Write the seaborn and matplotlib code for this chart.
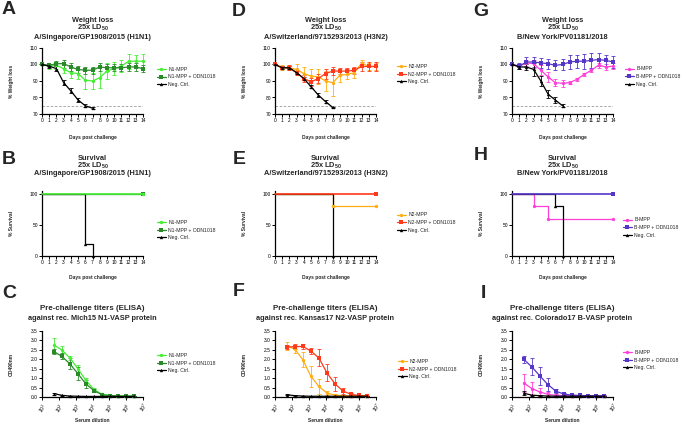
import numpy as np
import pandas as pd
import matplotlib
matplotlib.use("Agg")
import matplotlib.pyplot as plt
import seaborn as sns
from matplotlib.lines import Line2D
from matplotlib.ticker import FixedLocator, LogFormatterMathtext, NullLocator

# ---------------- data ----------------
days = list(range(15))

# A  weight loss H1N1
a_mpp = [100, 99, 99.5, 97.5, 95, 94.5, 90.5, 90, 92, 96, 97.5, 99, 102, 102, 102]
a_mpp_sd = [0, 1.5, 2, 2.5, 3, 3, 5.5, 5, 6.5, 5, 4, 3.5, 4.5, 4, 4.5]
a_odn = [100, 99.5, 100.5, 100.5, 98.5, 97, 96.5, 96.5, 98.5, 98, 98, 98, 98.5, 98.5, 97.5]
a_odn_sd = [0, 1, 1.5, 2.5, 2.5, 2, 2, 2, 2.5, 2, 2, 2, 2.5, 2.5, 2]
a_neg = [100, 99, 97.5, 89, 84, 78.5, 75, 73.5]
a_neg_sd = [0, 1, 1.5, 1.5, 1.5, 1, 1, 0.5]

# D  weight loss H3N2
d_mpp = [100, 98, 98, 97, 94.5, 93, 92.5, 90, 89, 93.5, 94, 95, 100.8, 98.8, 98.8]
d_mpp_sd = [0, 1.5, 1.5, 3, 4, 4, 4.5, 6, 8, 4, 3, 3, 2, 2, 2]
d_odn = [100, 98, 98, 95, 91.5, 89.5, 91.5, 94.5, 96, 96, 96, 96.5, 98.8, 98.8, 98.8]
d_odn_sd = [0, 1, 1.5, 1.5, 2, 2.5, 3, 3, 2.5, 2, 2, 2, 3, 3, 3]
d_neg = [100, 98, 98, 95, 91.5, 86.5, 81.5, 77.5, 74]
d_neg_sd = [0, 1, 1, 1, 1, 1, 1, 1, 0.5]

# G  weight loss B
g_mpp = [100, 99, 101, 100.5, 96.5, 92.5, 89, 88.6, 89, 91, 94, 96.5, 99.6, 98.5, 99]
g_mpp_sd = [0, 1.5, 2, 2.5, 3, 3, 2, 2, 1, 1, 1, 1, 1.5, 2, 2]
g_odn = [100, 99, 101.5, 101.5, 101, 100.5, 99.5, 100, 101.5, 102, 102, 102.5, 103, 102.5, 101.5]
g_odn_sd = [0, 2, 3, 3, 3, 3, 3, 3.5, 4, 4, 4.5, 4.5, 4, 3.5, 3.5]
g_neg = [100, 98.5, 98.5, 97, 90, 82, 78.5, 75]
g_neg_sd = [0, 1, 2, 4, 3, 2.5, 2, 1]

# survival (time, % survival)
b_mpp_t, b_mpp_s = [0, 14], [100, 100]
b_odn_t, b_odn_s = [0, 14], [100, 100]
b_neg_t, b_neg_s = [0, 6, 7], [100, 20, 0]
e_mpp_t, e_mpp_s = [0, 8, 14], [100, 80, 80]
e_odn_t, e_odn_s = [0, 14], [100, 100]
e_neg_t, e_neg_s = [0, 8], [100, 0]
h_mpp_t, h_mpp_s = [0, 3, 5, 14], [100, 80, 60, 60]
h_odn_t, h_odn_s = [0, 14], [100, 100]
h_neg_t, h_neg_s = [0, 6, 7], [100, 80, 0]

# ELISA: serum dilutions
dilution = [50, 150, 450, 1350, 4050, 12150, 36450, 109350, 328050, 984150, 2952450]
c_mpp = [2.76, 2.5, 2.07, 1.5, 0.88, 0.4, 0.15, 0.08, 0.05, 0.05, 0.05]
c_mpp_sd = [0.35, 0.22, 0.12, 0.18, 0.12, 0.08, 0.03, 0.02, 0.01, 0.01, 0.01]
c_odn = [2.41, 2.16, 1.76, 1.24, 0.69, 0.34, 0.12, 0.07, 0.05, 0.04, 0.04]
c_odn_sd = [0.12, 0.15, 0.3, 0.35, 0.2, 0.08, 0.03, 0.02, 0.01, 0.01, 0.01]
c_neg = [0.18, 0.09, 0.05, 0.04, 0.03, 0.03, 0.03, 0.03, 0.03, 0.03, 0.03]
c_neg_sd = [0.05, 0.02, 0.01, 0.01, 0.01, 0.01, 0.01, 0.01, 0.01, 0.01, 0.01]

f_mpp = [2.7, 2.54, 1.98, 1.1, 0.56, 0.21, 0.1, 0.07, 0.06, 0.05, 0.08]
f_mpp_sd = [0.22, 0.22, 0.4, 0.55, 0.38, 0.12, 0.05, 0.03, 0.02, 0.02, 0.05]
f_odn = [2.65, 2.67, 2.68, 2.44, 2.07, 1.28, 0.7, 0.32, 0.14, 0.08, 0.05]
f_odn_sd = [0.1, 0.12, 0.12, 0.15, 0.45, 0.45, 0.37, 0.15, 0.06, 0.03, 0.02]
f_neg = [0.12, 0.07, 0.05, 0.04, 0.04, 0.04, 0.04, 0.04, 0.04, 0.04, 0.04]
f_neg_sd = [0.04, 0.02, 0.01, 0.01, 0.01, 0.01, 0.01, 0.01, 0.01, 0.01, 0.01]

i_mpp = [0.74, 0.45, 0.27, 0.14, 0.09, 0.07, 0.06, 0.06, 0.06, 0.06, 0.06]
i_mpp_sd = [0.48, 0.35, 0.2, 0.1, 0.05, 0.03, 0.02, 0.02, 0.02, 0.02, 0.02]
i_odn = [2.0, 1.6, 1.12, 0.66, 0.31, 0.15, 0.1, 0.08, 0.07, 0.06, 0.06]
i_odn_sd = [0.2, 0.45, 0.48, 0.35, 0.1, 0.05, 0.03, 0.02, 0.02, 0.02, 0.02]
i_neg = [0.2, 0.1, 0.07, 0.05, 0.04, 0.04, 0.04, 0.04, 0.04, 0.04, 0.04]
i_neg_sd = [0.12, 0.03, 0.01, 0.01, 0.01, 0.01, 0.01, 0.01, 0.01, 0.01, 0.01]

labels_1 = ["N1-MPP", "N1-MPP + ODN1018", "Neg. Ctrl."]
labels_2 = ["N2-MPP", "N2-MPP + ODN1018", "Neg. Ctrl."]
labels_3 = ["B-MPP", "B-MPP + ODN1018", "Neg. Ctrl."]
strains = ["A/Singapore/GP1908/2015 (H1N1)", "A/Switzerland/9715293/2013 (H3N2)",
           "B/New York/PV01181/2018"]
elisa_titles = ["against rec. Mich15 N1-VASP protein", "against rec. Kansas17 N2-VASP protein",
                "against rec. Colorado17 B-VASP protein"]

# ---------------- style ----------------
colors = [["#44EE33", "#2A8A2A", "#000000"],
          ["#FFAE12", "#FF3A1A", "#000000"],
          ["#FF3FD8", "#5536C8", "#000000"]]
markers = ["o", "s", "^"]

sns.set_style("ticks")
plt.rcParams["font.family"] = ["Liberation Sans", "DejaVu Sans"]
plt.rcParams["mathtext.fontset"] = "custom"
plt.rcParams["mathtext.rm"] = "Liberation Sans"
plt.rcParams["mathtext.bf"] = "Liberation Sans:bold"

W, H = 683, 423
fig = plt.figure(figsize=(W / 100, H / 100), dpi=100)

def px_rect(left, top, right, bottom):
    return [left / W, 1 - bottom / H, (right - left) / W, (bottom - top) / H]

def fx(x):
    return x / W

def fy(y):
    return 1 - y / H

col_left = [42, 275, 512]
col_w = 101
rows = [(48, 114), (191, 256), (331, 397)]

TICK_FS = 3.5
LAB_FS = 3.5
TITLE_FS = 5.3
LEG_FS = 3.7
MS = 2.4
LW = 0.9

def style_ax(ax):
    for s in ["top", "right"]:
        ax.spines[s].set_visible(False)
    for s in ["left", "bottom"]:
        ax.spines[s].set_linewidth(0.9)
        ax.spines[s].set_color("black")
    ax.tick_params(width=0.7, length=2, labelsize=TICK_FS, pad=1, colors="black")

def draw_err_series(ax, x, m, sd, c, mk):
    ax.errorbar(x, m, yerr=sd, fmt="none", ecolor=c, elinewidth=0.6,
                capsize=1.2, capthick=0.6, clip_on=False, zorder=2)
    sns.lineplot(x=x, y=m, ax=ax, color=c, marker=mk, markersize=MS,
                 markeredgewidth=0, lw=LW, clip_on=False, zorder=3)

def add_legend(ax, labels, cols, x, y):
    handles = [Line2D([], [], color=c, marker=mk, lw=LW, ms=MS, markeredgewidth=0)
               for c, mk in zip(cols, markers)]
    ax.legend(handles, labels, loc="center left", bbox_to_anchor=(fx(x), fy(y)),
              bbox_transform=fig.transFigure, frameon=False, fontsize=LEG_FS,
              handlelength=1.7, handletextpad=0.5, labelspacing=0.5,
              borderpad=0, borderaxespad=0)

weight_data = [
    [(a_mpp, a_mpp_sd), (a_odn, a_odn_sd), (a_neg, a_neg_sd)],
    [(d_mpp, d_mpp_sd), (d_odn, d_odn_sd), (d_neg, d_neg_sd)],
    [(g_mpp, g_mpp_sd), (g_odn, g_odn_sd), (g_neg, g_neg_sd)],
]
surv_data = [
    [(b_mpp_t, b_mpp_s), (b_odn_t, b_odn_s), (b_neg_t, b_neg_s)],
    [(e_mpp_t, e_mpp_s), (e_odn_t, e_odn_s), (e_neg_t, e_neg_s)],
    [(h_mpp_t, h_mpp_s), (h_odn_t, h_odn_s), (h_neg_t, h_neg_s)],
]
elisa_data = [
    [(c_mpp, c_mpp_sd), (c_odn, c_odn_sd), (c_neg, c_neg_sd)],
    [(f_mpp, f_mpp_sd), (f_odn, f_odn_sd), (f_neg, f_neg_sd)],
    [(i_mpp, i_mpp_sd), (i_odn, i_odn_sd), (i_neg, i_neg_sd)],
]
all_labels = [labels_1, labels_2, labels_3]
# which survival series is drawn on top in each column
surv_top = [0, 1, 1]

legend_pos = [
    [(157, 77), (157, 230), (157, 363)],
    [(397, 74), (397, 222.5), (398, 369)],
    [(625, 76.5), (623, 227.5), (623, 360)],
]
letters = [["A", "B", "C"], ["D", "E", "F"], ["G", "H", "I"]]
letter_pos = [[(2, 10), (2, 160), (2, 293)],
              [(232, 11), (233, 159), (233, 292)],
              [(473, 11), (474, 155), (481, 294)]]

for ci in range(3):
    cl = col_left[ci]
    cx = cl + col_w / 2
    cols = colors[ci]
    labs = all_labels[ci]

    # ---- weight loss ----
    top, bot = rows[0]
    ax = fig.add_axes(px_rect(cl, top, cl + col_w, bot))
    ax.axhline(75, color="#9a9a9a", lw=0.6, dashes=(3, 2), zorder=1)
    for k, (m, sd) in enumerate(weight_data[ci]):
        draw_err_series(ax, days[:len(m)], m, sd, cols[k], markers[k])
    ax.set_xlim(0, 14)
    ax.set_ylim(70, 110)
    ax.set_xticks(days)
    ax.set_yticks([70, 80, 90, 100, 110])
    ax.set_xlabel("")
    ax.set_ylabel("% Weight loss", fontsize=LAB_FS, fontweight="bold")
    ax.yaxis.set_label_coords(-28 / col_w, 0.5)
    style_ax(ax)
    add_legend(ax, labs, cols, *legend_pos[ci][0])
    fig.text(fx(cx), fy(20), "Weight loss", ha="center", va="center",
             fontsize=TITLE_FS, fontweight="bold")
    fig.text(fx(cx), fy(27.5), r"25x LD$_{\mathbf{50}}$", ha="center", va="center",
             fontsize=TITLE_FS, fontweight="bold")
    fig.text(fx(cx), fy(37.5), strains[ci], ha="center", va="center",
             fontsize=TITLE_FS, fontweight="bold")
    fig.text(fx(cx), fy(137), "Days post challenge", ha="center", va="center",
             fontsize=LAB_FS, fontweight="bold")

    # ---- survival ----
    top, bot = rows[1]
    ax = fig.add_axes(px_rect(cl, top, cl + col_w, bot))
    for k, (t, s) in enumerate(surv_data[ci]):
        is_top = (k == surv_top[ci])
        sns.lineplot(x=t, y=s, ax=ax, color=cols[k], lw=1.2 if is_top else LW,
                     drawstyle="steps-post", clip_on=False, zorder=5 if is_top else 3)
        ax.plot(t[1:], s[1:], ls="none", marker=markers[k], color=cols[k], ms=MS,
                markeredgewidth=0, clip_on=False, zorder=6 if is_top else 4)
    ax.set_xlim(0, 14)
    ax.set_ylim(0, 105)
    ax.set_xticks(days)
    ax.set_yticks([0, 50, 100])
    ax.set_xlabel("")
    ax.set_ylabel("% Survival", fontsize=LAB_FS, fontweight="bold")
    ax.yaxis.set_label_coords(-28 / col_w, 0.5)
    style_ax(ax)
    add_legend(ax, labs, cols, *legend_pos[ci][1])
    fig.text(fx(cx), fy(158), "Survival", ha="center", va="center",
             fontsize=TITLE_FS, fontweight="bold")
    fig.text(fx(cx), fy(165.5), r"25x LD$_{\mathbf{50}}$", ha="center", va="center",
             fontsize=TITLE_FS, fontweight="bold")
    fig.text(fx(cx), fy(173.5), strains[ci], ha="center", va="center",
             fontsize=TITLE_FS, fontweight="bold")
    fig.text(fx(cx), fy(278), "Days post challenge", ha="center", va="center",
             fontsize=LAB_FS, fontweight="bold")

    # ---- ELISA ----
    top, bot = rows[2]
    ax = fig.add_axes(px_rect(cl, top, cl + col_w, bot))
    ax.set_xscale("log")
    for k, (m, sd) in enumerate(elisa_data[ci]):
        draw_err_series(ax, dilution, m, sd, cols[k], markers[k])
    ax.set_xlim(10, 1e7)
    ax.set_ylim(0, 3.5)
    ax.xaxis.set_major_locator(FixedLocator([10 ** e for e in range(1, 8)]))
    ax.xaxis.set_major_formatter(LogFormatterMathtext())
    ax.xaxis.set_minor_locator(NullLocator())
    ax.set_yticks(np.arange(0, 3.51, 0.5))
    ax.set_yticklabels([f"{v:.1f}" for v in np.arange(0, 3.51, 0.5)])
    ax.set_xlabel("")
    ax.set_ylabel("OD490nm", fontsize=LAB_FS, fontweight="bold")
    ax.yaxis.set_label_coords(-28 / col_w, 0.5)
    style_ax(ax)
    for lab in ax.get_xticklabels():
        lab.set_rotation(55)
        lab.set_ha("right")
        lab.set_va("top")
        lab.set_rotation_mode("anchor")
        lab.set_fontsize(TICK_FS + 0.3)
    add_legend(ax, labs, cols, *legend_pos[ci][2])
    fig.text(fx(cx), fy(308.5), "Pre-challenge titers (ELISA)", ha="center", va="center",
             fontsize=TITLE_FS + 0.4, fontweight="bold")
    fig.text(fx(cx), fy(318), elisa_titles[ci], ha="center", va="center",
             fontsize=TITLE_FS, fontweight="bold")
    fig.text(fx(cx), fy(420), "Serum dilution", ha="center", va="center",
             fontsize=LAB_FS, fontweight="bold")

    # panel letters
    for ri in range(3):
        lx, ly = letter_pos[ci][ri]
        fig.text(fx(lx), fy(ly), letters[ci][ri], ha="left", va="center",
                 fontsize=14, fontweight="bold")

fig.savefig("out.png", dpi=100)
